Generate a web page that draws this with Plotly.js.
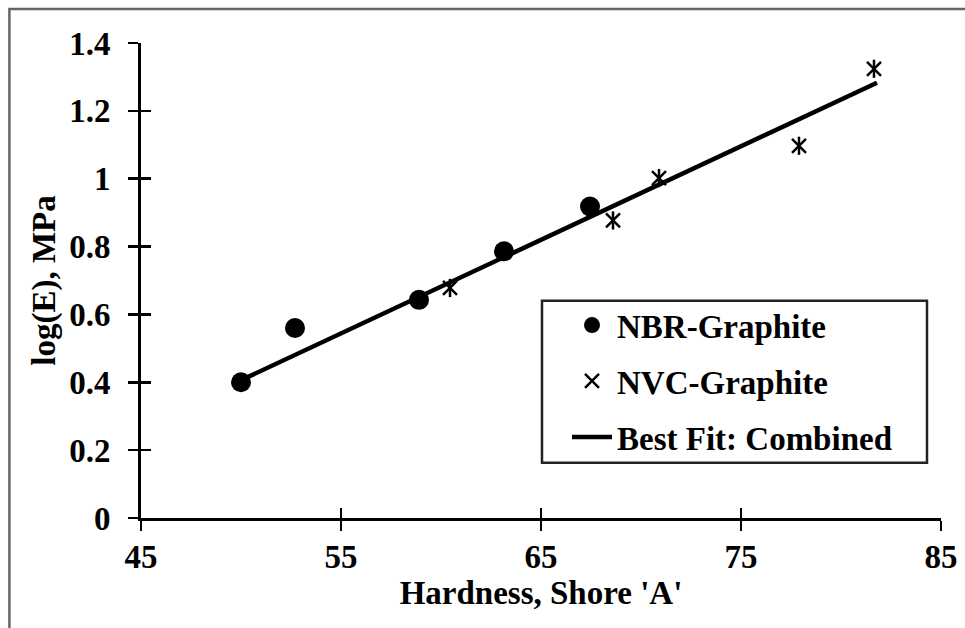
<!DOCTYPE html>
<html>
<head>
<meta charset="utf-8">
<script src="https://cdn.plot.ly/plotly-3.0.1.min.js"></script>
<style>html,body{margin:0;padding:0;background:#fff;}#chart{width:965px;height:628px;}</style>
</head>
<body>
<div id="chart"></div>
<script>
// NBR-Graphite data
var nbrHardness = [50.0, 52.7, 58.9, 63.15, 67.45];
var nbrLogE     = [0.40, 0.56, 0.643, 0.786, 0.918];
// NVC-Graphite data
var nvcHardness = [60.45, 68.6, 70.9, 77.9, 81.65];
var nvcLogE     = [0.678, 0.877, 1.002, 1.097, 1.324];
// Best fit (combined), endpoints
var fitHardness = [49.85, 81.8];
var fitLogE     = [0.402, 1.283];

var xTicks = [45, 55, 65, 75, 85];
var yTicks = [0, 0.2, 0.4, 0.6, 0.8, 1, 1.2, 1.4];
var yTickText = ['0', '0.2', '0.4', '0.6', '0.8', '1', '1.2', '1.4'];

var FONT = 'Liberation Serif, Times New Roman, serif';

var traces = [
  {
    x: nbrHardness, y: nbrLogE, type: 'scatter', mode: 'markers',
    name: '<b>NBR-Graphite</b>', legendgroup: 'a',
    marker: {symbol: 'circle', size: 20, color: '#000'},
    hoverinfo: 'x+y'
  },
  {
    x: nvcHardness, y: nvcLogE, type: 'scatter', mode: 'markers',
    name: '<b>NVC-Graphite</b>', legendgroup: 'b',
    marker: {symbol: 'x-thin-open', size: 14, color: '#000', line: {width: 2.5, color: '#000'}},
    hoverinfo: 'x+y'
  },
  {
    x: nvcHardness, y: nvcLogE, type: 'scatter', mode: 'markers',
    showlegend: false, legendgroup: 'b', hoverinfo: 'skip',
    marker: {symbol: 'line-ns-open', size: 13, color: '#000', line: {width: 2.5, color: '#000'}}
  },
  {
    x: fitHardness, y: fitLogE, type: 'scatter', mode: 'lines',
    name: '<b>Best Fit: Combined</b>', legendgroup: 'c',
    line: {color: '#000', width: 4.5},
    hoverinfo: 'skip'
  },
  {
    x: [], y: [], xaxis: 'x2', yaxis: 'y2', type: 'scatter', mode: 'markers',
    showlegend: false, hoverinfo: 'skip'
  }
];

var layout = {
  width: 965, height: 628,
  margin: {l: 141, r: 24, t: 43, b: 110, pad: 0},
  paper_bgcolor: '#fff', plot_bgcolor: '#fff',
  font: {family: FONT, size: 33, color: '#000'},
  showlegend: true,
  xaxis: {
    range: [45, 85], tickvals: xTicks, ticktext: xTicks.map(String),
    showgrid: false, zeroline: false,
    showline: true, linecolor: '#000', linewidth: 3,
    ticks: 'outside', ticklen: 10, tickwidth: 2.5, tickcolor: '#000',
    ticklabelstandoff: -3,
    tickfont: {family: FONT, size: 33, color: '#000', weight: 'bold'},
    title: {text: "<b>Hardness, Shore 'A'</b>", font: {family: FONT, size: 33, color: '#000'}, standoff: 0},
    automargin: false, fixedrange: true
  },
  yaxis: {
    range: [0, 1.4], tickvals: yTicks, ticktext: yTickText,
    showgrid: false, zeroline: false,
    showline: true, linecolor: '#000', linewidth: 3,
    ticks: 'outside', ticklen: 10, tickwidth: 2.5, tickcolor: '#000',
    ticklabelstandoff: 11,
    tickfont: {family: FONT, size: 33, color: '#000', weight: 'bold'},
    title: {text: '<b>log(E), MPa</b>', font: {family: FONT, size: 33, color: '#000'}, standoff: 4},
    automargin: false, fixedrange: true
  },
  xaxis2: {
    overlaying: 'x', anchor: 'y2', range: [45, 85], tickvals: xTicks,
    showticklabels: false, showgrid: false, zeroline: false, showline: false,
    ticks: 'inside', ticklen: 10, tickwidth: 2.5, tickcolor: '#000', fixedrange: true
  },
  yaxis2: {
    overlaying: 'y', anchor: 'x2', range: [0, 1.4], tickvals: yTicks,
    showticklabels: false, showgrid: false, zeroline: false, showline: false,
    ticks: 'inside', ticklen: 10, tickwidth: 2.5, tickcolor: '#000', fixedrange: true
  },
  legend: {
    x: 0.5325, y: 0.465, xanchor: 'left', yanchor: 'top',
    bgcolor: 'rgba(0,0,0,0)', borderwidth: 0,
    font: {family: FONT, size: 33, color: '#000'},
    traceorder: 'grouped', tracegroupgap: 10, itemwidth: 40
  },
  shapes: [
    {type: 'rect', xref: 'paper', yref: 'paper',
     x0: 0.50125, x1: 0.9825, y0: 0.1164, y1: 0.4575,
     line: {color: '#222', width: 2.5}, fillcolor: 'rgba(0,0,0,0)', layer: 'above'},
    {type: 'rect', xref: 'paper', yref: 'paper',
     x0: -0.1645, x1: 1.05, y0: -0.3, y1: 1.0714,
     line: {color: '#666', width: 2.5}, fillcolor: 'rgba(0,0,0,0)', layer: 'below'}
  ]
};

Plotly.newPlot('chart', traces, layout, {displayModeBar: false, staticPlot: true});
</script>
</body>
</html>
